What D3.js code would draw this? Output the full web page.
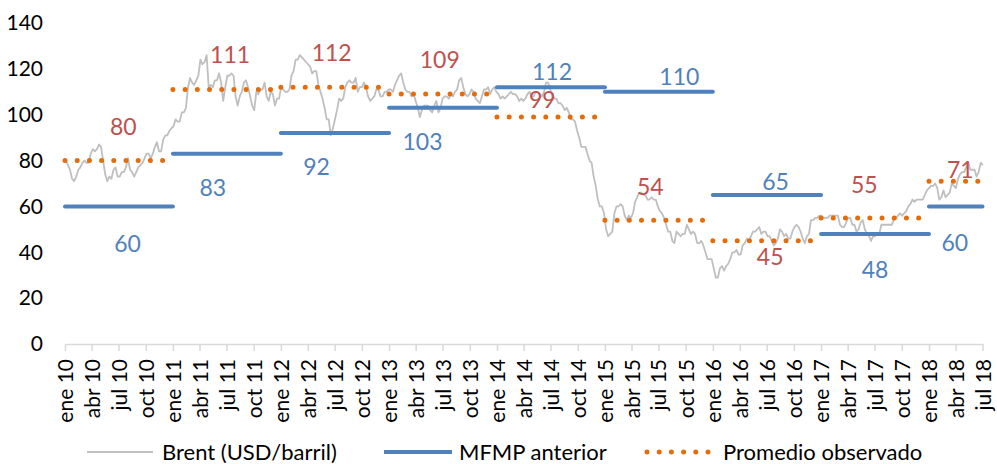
<!DOCTYPE html>
<html>
<head>
<meta charset="utf-8">
<script src="https://cdn.jsdelivr.net/npm/d3@7"></script>
<style>
body{margin:0;background:#fff;}
text{font-family:Lato,"Open Sans",sans-serif;}
</style>
</head>
<body>
<svg id="chart" width="997" height="464"></svg>
<script>
// years of the forecast / average segments
var years=[2010,2011,2012,2013,2014,2015,2016,2017,2018];
var mfmpAnterior=[60,83,92,103,112,110,65,48,60];
var promedioObservado=[80,111,112,109,99,54,45,55,71];
var lastDate="2018-07-01";

var yTicks=[0,20,40,60,80,100,120,140];
var monthNames=["ene","abr","jul","oct"];

// Brent, one value per week starting on brentStart
var brentStart="2010-01-04";
var brentWeekly=[
// 2010
80,78,76,72, 71,73,76,77, 79,80,79,79,83, 85,84,85,87, 86,80,74,71,73, 72,76,77,73, 73,75,75,77, 81,76,75,73,75, 77,78,79,81, 83,83,81,83, 86,88,84,84,89, 91,91,93,94,
// 2011
95,98,97,97,101, 101,103,112,116, 114,113,115,117, 124,122,123,126, 112,113,112,115,115, 118,114,106,112, 117,117,118,117, 108,104,108,110,114, 115,112,108,104, 102,110,109,111,111, 114,108,106,110, 109,104,107,107,
// 2012
112,111,110,110,111, 117,119,124,124, 126,125,124,123, 122,121,118,119,119, 113,110,107,103, 98,98,91,94, 98,102,107,106,107, 112,114,115,114, 114,116,110,112, 112,114,112,108,106, 107,108,111,111, 108,108,110,110,111,
// 2013
111,110,113,115, 117,118,114,111, 110,110,108,109, 106,103,99,102,104, 104,104,102,101, 104,106,101,103, 107,108,108,107,109, 108,110,111,115, 116,112,109,108,109, 111,110,107,106, 105,108,111,111, 112,109,111,112,110,
// 2014
109,107,108,107, 108,109,110,109, 109,108,106,107,106, 107,109,110,108, 108,110,110,109, 108,110,114,114,111, 108,107,107,105, 105,104,102,103, 101,98,98,97,93, 90,86,86,86, 83,80,79,73, 69,63,60,60,57,
// 2015
50,47,48,49, 57,60,60,61, 60,56,54,56,55, 57,62,64,66, 66,65,65,63, 63,64,63,63,60, 58,57,55,52, 49,49,45,44,49, 48,47,48,48, 52,50,48,49, 48,44,44,45,43, 40,37,37,37,
// 2016
33,29,29,33, 34,32,34,35,37, 40,40,41,39, 39,43,44,46, 45,47,49,49,50, 51,48,49,49, 47,47,45,43, 44,46,50,49,47, 48,46,46,49, 51,52,51,49,46, 44,47,48,54, 54,55,55,56,
// 2017
56,55,55,55,56, 56,56,56,56, 52,51,51,53, 55,55,52,52, 49,50,53,54,50, 48,47,45,47, 47,48,48,52,52, 52,52,52,52, 54,55,56,57, 56,57,58,60,61, 63,62,63,63, 63,63,65,67,
// 2018
68,69,69,70,68, 63,64,67,64, 65,66,70,69, 68,72,74,75,75, 77,79,76,76, 76,73,75,79, 78
];

// label layout: fraction of the year where the label sits, vertical offset in px
var mfmpLabelPos=[[0.58,37],[0.37,34],[0.33,34],[0.31,34],[0.51,-15],[0.69,-15],[0.58,-13],[0.50,36],[0.24,36]];
var promLabelPos=[[0.54,-34],[0.53,-35],[0.47,-34],[0.47,-34],[0.42,-17],[0.42,-33],[0.53,16],[0.40,-33],[0.29,-11]];

var blue="#4F81BD", red="#C0504D", orange="#E46C0A", grey="#BFBFBF", axisGrey="#D9D9D9";

var parse=d3.timeParse("%Y-%m-%d");
var svg=d3.select("#chart");

var x=d3.scaleTime().domain([new Date(2010,0,1),parse(lastDate)]).range([65,982.5]);
var y=d3.scaleLinear().domain([0,140]).range([344,23]);

var t0=parse(brentStart);
var brent=brentWeekly.map(function(v,i){return {date:d3.timeDay.offset(t0,7*i),value:v};});

function segStart(i){return new Date(years[i],0,1);}
function segEnd(i){return i==years.length-1?parse(lastDate):new Date(years[i]+1,0,1);}

// y axis
var yAxis=svg.append("g").attr("transform","translate(65,0)")
  .call(d3.axisLeft(y).tickValues(yTicks).tickSize(0).tickPadding(22));
yAxis.select(".domain").remove();
yAxis.selectAll("text").style("font-size","21px").attr("fill","#000");

// x axis
var qTicks=d3.timeMonth.every(3).range(new Date(2010,0,1),d3.timeDay.offset(parse(lastDate),1));
var xAxis=svg.append("g").attr("transform","translate(0,344)")
  .call(d3.axisBottom(x).tickValues(qTicks).tickSize(7).tickSizeOuter(0)
    .tickFormat(function(d){return monthNames[d.getMonth()/3]+" "+d3.timeFormat("%y")(d);}));
xAxis.select(".domain").attr("stroke",axisGrey).attr("stroke-width",1.5);
xAxis.selectAll(".tick line").attr("stroke",axisGrey).attr("stroke-width",1.5);
xAxis.selectAll("text")
  .attr("transform","rotate(-90)")
  .attr("text-anchor","end")
  .attr("x",-15).attr("y",0).attr("dy","0.36em")
  .attr("fill","#000").style("font-size","21px");

// Brent line
var line=d3.line().x(function(d){return x(d.date);}).y(function(d){return y(d.value);});
svg.append("path").datum(brent).attr("d",line)
  .attr("fill","none").attr("stroke",grey).attr("stroke-width",1.8).attr("stroke-linejoin","round");

// MFMP anterior segments
svg.selectAll(".mfmp").data(mfmpAnterior).enter().append("line").attr("class","mfmp")
  .attr("x1",function(d,i){return x(segStart(i));})
  .attr("x2",function(d,i){return x(segEnd(i));})
  .attr("y1",function(d){return y(d);}).attr("y2",function(d){return y(d);})
  .attr("stroke",blue).attr("stroke-width",4).attr("stroke-linecap","round");

// Promedio observado segments (round dots)
svg.selectAll(".prom").data(promedioObservado).enter().append("line").attr("class","prom")
  .attr("x1",function(d,i){return x(segStart(i));})
  .attr("x2",function(d,i){return x(segEnd(i));})
  .attr("y1",function(d){return y(d);}).attr("y2",function(d){return y(d);})
  .attr("stroke",orange).attr("stroke-width",5).attr("stroke-linecap","round")
  .attr("stroke-dasharray","0,12.2");

// value labels
function labelX(i,f){var a=x(segStart(i)),b=x(new Date(years[i]+1,0,1));return a+f*(b-a);}
svg.selectAll(".mlab").data(mfmpAnterior).enter().append("text").attr("class","mlab")
  .attr("x",function(d,i){return labelX(i,mfmpLabelPos[i][0]);})
  .attr("y",function(d,i){return y(d)+mfmpLabelPos[i][1];})
  .attr("dy","0.36em").attr("text-anchor","middle")
  .attr("fill",blue).style("font-size","23px").text(function(d){return d;});
svg.selectAll(".plab").data(promedioObservado).enter().append("text").attr("class","plab")
  .attr("x",function(d,i){return labelX(i,promLabelPos[i][0]);})
  .attr("y",function(d,i){return y(d)+promLabelPos[i][1];})
  .attr("dy","0.36em").attr("text-anchor","middle")
  .attr("fill",red).style("font-size","23px").text(function(d){return d;});

// legend
var legend=[
  {label:"Brent (USD/barril)",x1:87,x2:153,tx:162,stroke:grey,w:2,dash:null},
  {label:"MFMP anterior",x1:384,x2:452,tx:459,stroke:blue,w:4,dash:null},
  {label:"Promedio observado",x1:647,x2:709,tx:723,stroke:orange,w:5,dash:"0,12.2"}
];
var lg=svg.append("g").attr("transform","translate(0,452)");
legend.forEach(function(l){
  var s=lg.append("line").attr("x1",l.x1).attr("x2",l.x2).attr("y1",0).attr("y2",0)
    .attr("stroke",l.stroke).attr("stroke-width",l.w);
  if(l.dash){s.attr("stroke-dasharray",l.dash).attr("stroke-linecap","round");}
  lg.append("text").attr("x",l.tx).attr("y",0).attr("dy","0.36em")
    .style("font-size","22px").attr("fill","#000").text(l.label);
});
</script>
</body>
</html>
